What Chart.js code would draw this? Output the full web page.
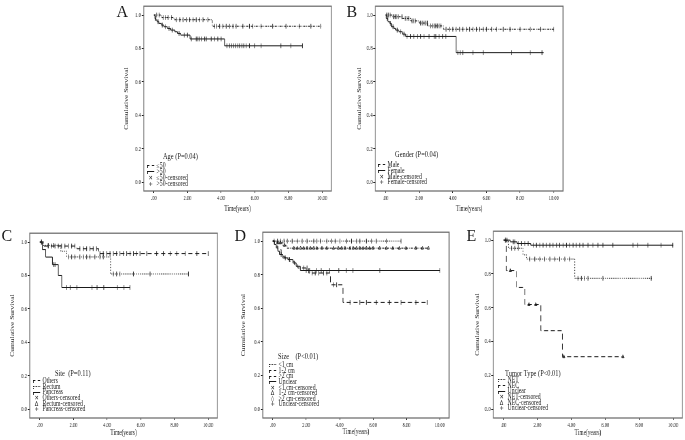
<!DOCTYPE html>
<html>
<head>
<meta charset="utf-8">
<script src="https://cdn.jsdelivr.net/npm/chart.js@4/dist/chart.umd.min.js"></script>
<style>
html, body { margin: 0; padding: 0; background: #fff; }
body { width: 685px; height: 440px; position: relative; overflow: hidden; font-family: "Liberation Serif", serif; color: #1a1a1a; }
.panel { position: absolute; transform-origin: 0 0; }
.panel canvas { position: absolute; left: 0; top: 0; }
.letter { position: absolute; font-size: 16px; line-height: 16px; }
.lg { position: absolute; transform-origin: 0 0; font-size: 7.2px; white-space: pre; }
.lg .ttl { font-size: 8px; line-height: 8px; }
.lg .row { display: flex; align-items: center; }
.sym { display: inline-block; width: 9px; height: 3px; border: 0 none; border-top: 1px solid #1a1a1a; border-left: 1px solid #1a1a1a; margin-right: 3px; box-sizing: border-box; }
.glyph { display: inline-block; width: 9px; margin-right: 3px; text-align: center; font-family: "DejaVu Sans", sans-serif; font-size: 6.5px; }
</style>
</head>
<body>
<script>
var K = 0.68;          // the plots are squeezed sideways
var KL = 0.8;          // legend text is squeezed a bit less
var INK = '#1a1a1a';
var FRAME = '#666';

// axis ticks
var xTickVals = [0, 2, 4, 6, 8, 10];
var xTickLabels = ['.00', '2.00', '4.00', '6.00', '8.00', '10.00'];
var yTickVals = [0, 0.2, 0.4, 0.6, 0.8, 1.0];
var yTickLabels = ['0.0', '0.2', '0.4', '0.6', '0.8', '1.0'];

// A - age
var ageLe50Time = [0, 0.45, 1.2, 3.47, 10.0];
var ageLe50Surv = [1.0, 0.985, 0.972, 0.933, 0.933];
var ageLe50Cens = [0.16, 0.32, 0.55, 0.71, 0.85, 1.04, 1.34, 1.54, 1.74, 1.93, 2.13, 2.33, 2.52, 2.72, 2.92, 3.21, 3.61, 3.71, 3.91, 4.1, 4.3, 4.5, 4.7, 4.89, 5.29, 5.68, 5.88, 6.37, 7.06, 7.85, 8.64, 9.33, 9.92];
var ageGt50Time = [0, 0.06, 0.12, 0.2, 0.3, 0.45, 0.6, 0.8, 1.0, 1.25, 1.4, 1.6, 2.15, 4.2, 8.83];
var ageGt50Surv = [1.0, 0.98, 0.97, 0.96, 0.95, 0.94, 0.93, 0.92, 0.91, 0.90, 0.89, 0.88, 0.857, 0.816, 0.816];
var ageGt50Cens = [0.1, 0.25, 0.5, 0.7, 0.9, 1.1, 1.5, 1.8, 2.0, 2.23, 2.52, 2.62, 2.72, 2.82, 3.02, 3.12, 3.41, 3.61, 3.8, 4.0, 4.34, 4.5, 4.62, 4.73, 4.85, 4.99, 5.09, 5.23, 5.34, 5.48, 5.68, 5.98, 6.37, 7.55, 8.14, 8.83];
var ageLabels = ['≤50', '>50', '≤50-censored', '>50-censored'];

// B - gender
var maleTime = [0, 0.4, 1.0, 1.5, 2.0, 2.5, 3.45, 10.0];
var maleSurv = [1.0, 0.99, 0.98, 0.965, 0.952, 0.935, 0.915, 0.915];
var maleCens = [0.08, 0.18, 0.28, 0.48, 0.58, 0.68, 0.78, 0.98, 1.18, 1.28, 1.38, 1.58, 1.69, 1.79, 2.09, 2.19, 2.29, 2.39, 2.49, 2.69, 2.79, 2.89, 2.99, 3.09, 3.19, 3.29, 3.6, 3.8, 4.0, 4.2, 4.4, 4.6, 4.8, 5.0, 5.2, 5.4, 5.6, 5.8, 6.0, 6.3, 6.6, 7.0, 7.4, 8.0, 8.6, 9.2, 10.0];
var femaleTime = [0, 0.05, 0.15, 0.25, 0.35, 0.5, 0.6, 0.8, 1.0, 1.2, 4.2, 9.4];
var femaleSurv = [1.0, 0.98, 0.96, 0.95, 0.93, 0.92, 0.91, 0.90, 0.886, 0.872, 0.775, 0.775];
var femaleCens = [0.1, 0.3, 0.45, 0.7, 0.9, 1.1, 1.28, 1.48, 1.69, 1.89, 2.09, 2.29, 2.59, 2.89, 2.99, 3.19, 3.39, 3.59, 4.3, 4.44, 4.6, 5.2, 5.8, 7.5, 8.6, 9.3];
var genderLabels = ['Male', 'Female', 'Male-censored', 'Female-censored'];

// C - site
var othersTime = [0, 0.25, 2.2, 3.5, 10.0];
var othersSurv = [1.0, 0.976, 0.96, 0.931, 0.931];
var othersCens = [0.1, 0.5, 0.7, 0.9, 1.1, 1.29, 1.49, 1.69, 1.89, 2.08, 2.38, 2.58, 2.78, 2.98, 3.17, 3.37, 3.57, 3.77, 3.97, 4.17, 4.37, 4.56, 4.76, 4.96, 5.16, 5.36, 5.56, 5.75, 5.95, 6.35, 6.94, 7.34, 7.74, 8.13, 8.63, 9.33, 10.0];
var rectumTime = [0, 0.2, 1.25, 1.6, 4.2, 8.83];
var rectumSurv = [1.0, 0.98, 0.945, 0.911, 0.809, 0.809];
var rectumCens = [0.1, 0.5, 0.8, 1.69, 1.89, 2.08, 2.38, 2.58, 2.78, 2.98, 3.27, 3.57, 3.77, 4.37, 4.56, 4.76, 5.56, 6.55, 8.83];
var pancreasTime = [0, 0.15, 0.35, 0.75, 1.1, 1.3, 5.35];
var pancreasSurv = [1.0, 0.955, 0.91, 0.865, 0.80, 0.728, 0.728];
var pancreasCens = [0.8, 0.9, 1.6, 1.8, 2.2, 3.1, 3.4, 3.8, 4.6, 5.0, 5.35];
var siteLabels = ['Others', 'Rectum', 'Pancreas', 'Others-censored', 'Rectum-censored', 'Pancreas-censored'];

// D - size
var lt1Time = [0, 7.67];
var lt1Surv = [1.0, 1.0];
var lt1Cens = [0.08, 0.28, 0.47, 0.67, 0.87, 1.16, 1.46, 1.76, 2.05, 2.45, 2.64, 2.84, 3.23, 3.53, 3.73, 4.02, 4.42, 4.71, 5.01, 5.21, 5.6, 5.9, 6.2, 6.79, 7.67];
var oneTwoTime = [0, 0.2, 0.6, 0.85, 9.31];
var oneTwoSurv = [1.0, 0.99, 0.975, 0.958, 0.958];
var oneTwoCens = [0.3, 0.45, 0.7, 1.26, 1.46, 1.66, 1.85, 2.05, 2.25, 2.45, 2.64, 2.94, 3.23, 3.63, 3.92, 4.12, 4.32, 4.62, 4.81, 5.01, 5.21, 5.4, 5.6, 5.8, 6.0, 6.39, 6.79, 7.18, 7.57, 7.97, 8.56, 8.95, 9.31];
var gt2Time = [0, 0.1, 0.3, 0.5, 0.7, 1.0, 1.3, 1.5, 2.15, 3.45, 4.2, 9.25];
var gt2Surv = [1.0, 0.97, 0.95, 0.91, 0.90, 0.88, 0.86, 0.84, 0.81, 0.74, 0.635, 0.635];
var gt2Cens = [1.85, 2.05, 2.35, 2.54, 2.74, 3.04, 3.23, 3.63, 3.82, 4.62, 5.21, 5.6, 6.2, 6.98, 7.67, 8.56, 9.25];
var unclearDTime = [0, 0.1, 0.2, 0.3, 0.4, 0.6, 0.9, 1.2, 1.4, 1.65, 10.0];
var unclearDSurv = [1.0, 0.98, 0.96, 0.94, 0.92, 0.90, 0.89, 0.87, 0.85, 0.825, 0.825];
var unclearDCens = [0.5, 0.75, 1.0, 2.0, 2.2, 2.6, 2.9, 3.4, 3.95, 4.4, 4.8, 6.4, 10.0];
var sizeLabels = ['<1 cm', '1-2 cm', '>2 cm', 'Unclear', '<1 cm-censored', '1-2 cm-censored', '>2 cm-censored', 'Unclear-censored'];

// E - tumor type
var netTime = [0, 0.3, 1.15, 1.35, 4.2, 8.8];
var netSurv = [1.0, 0.952, 0.913, 0.888, 0.774, 0.774];
var netCens = [0.1, 0.47, 0.67, 0.86, 1.55, 1.84, 2.14, 2.43, 2.73, 3.02, 3.31, 3.61, 3.9, 4.39, 4.59, 4.78, 4.98, 5.86, 8.71];
var necTime = [0, 0.17, 0.76, 1.25, 2.2, 3.47, 7.04];
var necSurv = [1.0, 0.82, 0.72, 0.619, 0.464, 0.31, 0.31];
var necCens = [0.4, 1.5, 1.9, 3.55, 7.04];
var unclearETime = [0, 0.4, 0.8, 1.6, 10.0];
var unclearESurv = [1.0, 0.99, 0.98, 0.97, 0.97];
var unclearECens = [0.1, 0.2, 0.57, 0.67, 0.86, 1.06, 1.25, 1.45, 1.75, 1.94, 2.14, 2.33, 2.53, 2.73, 2.92, 3.12, 3.31, 3.51, 3.71, 3.9, 4.1, 4.29, 4.49, 4.69, 4.98, 5.27, 5.57, 5.86, 6.45, 7.63, 7.92, 8.51, 9.29, 9.98];
var typeLabels = ['NET', 'NEC', 'Unclear', 'NET-censored', 'NEC-censored', 'Unclear-censored'];

// line dash per group style
var DOTDASH = [3, 1.5, 1, 1.5];
var DASHED = [6, 4];
var DOTTED = [1.2, 1.6];
var SOLID = [];

var panels = [
	{
		letter: 'A', letterPos: [122, 12],
		frame: {l: 144, t: 3, r: 332, b: 191}, yGap: 17, xGap: 18,
		curves: [
			{time: ageLe50Time, surv: ageLe50Surv, cens: ageLe50Cens, dash: DOTDASH, mark: 'line'},
			{time: ageGt50Time, surv: ageGt50Surv, cens: ageGt50Cens, dash: SOLID, mark: 'line'},
		],
		legend: {title: 'Age (P=0.04)', labels: ageLabels, x: 147, ty: 157, tdx: 16, gap: 9, step: 6,
			syms: [DOTDASH, SOLID, '✕', '+']},
	},
	{
		letter: 'B', letterPos: [352, 12],
		frame: {l: 375, t: 3, r: 563, b: 191}, yGap: 15, xGap: 18,
		curves: [
			{time: maleTime, surv: maleSurv, cens: maleCens, dash: DOTDASH, mark: 'line'},
			{time: femaleTime, surv: femaleSurv, cens: femaleCens, dash: SOLID, mark: 'line'},
		],
		legend: {title: 'Gender (P=0.04)', labels: genderLabels, x: 378, ty: 155, tdx: 17, gap: 11, step: 5.8,
			syms: [DOTDASH, SOLID, '✕', '+']},
	},
	{
		letter: 'C', letterPos: [7, 236],
		frame: {l: 30, t: 230, r: 218, b: 418}, yGap: 17, xGap: 15,
		curves: [
			{time: othersTime, surv: othersSurv, cens: othersCens, dash: DASHED, mark: 'line'},
			{time: rectumTime, surv: rectumSurv, cens: rectumCens, dash: DOTTED, mark: 'line'},
			{time: pancreasTime, surv: pancreasSurv, cens: pancreasCens, dash: SOLID, mark: 'line'},
		],
		legend: {title: 'Site  (P=0.11)', labels: siteLabels, x: 33, ty: 374, tdx: 22, gap: 8, step: 5.6,
			syms: [DASHED, DOTTED, SOLID, '✕', 'Δ', '+']},
	},
	{
		letter: 'D', letterPos: [240, 236],
		frame: {l: 263, t: 229, r: 449, b: 418}, yGap: 19, xGap: 14,
		curves: [
			{time: lt1Time, surv: lt1Surv, cens: lt1Cens, dash: DOTTED, mark: 'line'},
			{time: oneTwoTime, surv: oneTwoSurv, cens: oneTwoCens, dash: DOTDASH, mark: 'triangle'},
			{time: gt2Time, surv: gt2Surv, cens: gt2Cens, dash: DASHED, mark: 'line'},
			{time: unclearDTime, surv: unclearDSurv, cens: unclearDCens, dash: SOLID, mark: 'line'},
		],
		legend: {title: 'Size    (P<0.01)', labels: sizeLabels, x: 269, ty: 357, tdx: 9, gap: 9, step: 5.6,
			syms: [DOTTED, DOTDASH, DASHED, SOLID, '✕', 'Δ', '◊', '+']},
	},
	{
		letter: 'E', letterPos: [472, 236],
		frame: {l: 493, t: 228, r: 682, b: 418}, yGap: 15, xGap: 15,
		curves: [
			{time: netTime, surv: netSurv, cens: netCens, dash: DOTTED, mark: 'line'},
			{time: necTime, surv: necSurv, cens: necCens, dash: DASHED, mark: 'triangle'},
			{time: unclearETime, surv: unclearESurv, cens: unclearECens, dash: SOLID, mark: 'line'},
		],
		legend: {title: 'Tumor Type (P<0.01)', labels: typeLabels, x: 498, ty: 374, tdx: 7, gap: 7, step: 5.6,
			syms: [DOTTED, DASHED, SOLID, '✕', 'Δ', '+']},
	},
];

// survival level at time t
function survAt(time, surv, t){
	var s = surv[0];
	for(var i = 0; i < time.length; i++){
		if(time[i] <= t) s = surv[i];
	}
	return s;
}

// box round the plot area
var framePlugin = {
	id: 'frame',
	afterDraw: (chart) => {
		var a = chart.chartArea;
		var ctx = chart.ctx;
		ctx.save();
		ctx.strokeStyle = FRAME;
		ctx.lineWidth = 1.2;
		ctx.strokeRect(a.left, a.top, a.right - a.left, a.bottom - a.top);
		ctx.restore();
	}
};

function makePanel(p){
	var fr = p.frame;
	var wy = Math.round(p.yGap / K + 4.5);
	var hx = Math.round(p.xGap + 4.8);
	var padT = 2, padR = 2;
	var cw = Math.round((fr.r - fr.l) / K);
	var W = wy + cw + padR;
	var H = padT + (fr.b - fr.t) + hx;

	var box = document.createElement('div');
	box.className = 'panel';
	box.style.left = (fr.l - wy * K) + 'px';
	box.style.top = (fr.t - padT) + 'px';
	box.style.width = W + 'px';
	box.style.height = H + 'px';
	box.style.transform = 'scaleX(' + K + ')';
	var cv = document.createElement('canvas');
	cv.width = W;
	cv.height = H;
	box.appendChild(cv);
	document.body.appendChild(box);

	var datasets = [];
	p.curves.forEach(c => {
		datasets.push({
			data: c.time.map((t, i) => ({x: t, y: c.surv[i]})),
			stepped: 'before',
			borderColor: INK,
			borderWidth: 1,
			borderDash: c.dash,
			pointRadius: 0,
			fill: false,
		});
		datasets.push({
			data: c.cens.map(t => ({x: t, y: survAt(c.time, c.surv, t)})),
			showLine: false,
			pointStyle: c.mark,
			pointRotation: c.mark === 'line' ? 90 : 0,
			pointRadius: c.mark === 'line' ? 2.4 : 1.9,
			pointBorderColor: INK,
			pointBackgroundColor: 'rgba(0,0,0,0)',
			pointBorderWidth: 0.9,
		});
	});

	new Chart(cv, {
		type: 'line',
		data: {datasets: datasets},
		plugins: [framePlugin],
		options: {
			responsive: false,
			animation: false,
			events: [],
			layout: {autoPadding: false, padding: {top: padT, right: padR, left: 0, bottom: 0}},
			plugins: {legend: {display: false}, tooltip: {enabled: false}},
			scales: {
				x: {
					type: 'linear', min: -0.6, max: 10.55,
					afterBuildTicks: s => { s.ticks = xTickVals.map(v => ({value: v})); },
					afterFit: s => { s.height = hx; },
					ticks: {
						callback: (v, i) => xTickLabels[i],
						font: {family: 'Liberation Serif', size: 6.6},
						color: INK, padding: 1, maxRotation: 0, autoSkip: false,
					},
					grid: {drawOnChartArea: false, tickLength: 2, color: INK},
					border: {display: false},
					title: {display: true, text: 'Time(years)', color: INK, padding: 0,
						font: {family: 'Liberation Serif', size: 8}},
				},
				y: {
					type: 'linear', min: -0.053, max: 1.053,
					afterBuildTicks: s => { s.ticks = yTickVals.map(v => ({value: v})); },
					afterFit: s => { s.width = wy; },
					ticks: {
						callback: (v, i) => yTickLabels[i],
						font: {family: 'Liberation Serif', size: 7},
						color: INK, padding: 1, autoSkip: false,
					},
					grid: {drawOnChartArea: false, tickLength: 3, color: INK},
					border: {display: false},
					title: {display: true, text: 'Cumulative Survival', color: INK, padding: 0,
						font: {family: 'Liberation Serif', size: 7.5}},
				},
			},
		},
	});

	// panel letter
	var lt = document.createElement('div');
	lt.className = 'letter';
	lt.textContent = p.letter;
	lt.style.left = (p.letterPos[0] - 5.5) + 'px';
	lt.style.top = (p.letterPos[1] - 8) + 'px';
	document.body.appendChild(lt);

	// legend in the lower left corner of the plot
	var lg = p.legend;
	var d = document.createElement('div');
	d.className = 'lg';
	d.style.left = lg.x + 'px';
	d.style.top = (lg.ty - 4) + 'px';
	d.style.transform = 'scaleX(' + KL + ')';
	var html = '<div class="ttl" style="margin-left:' + (lg.tdx / KL).toFixed(1) + 'px">' + lg.title + '</div>';
	html += '<div style="height:' + (lg.gap - 4 - lg.step / 2).toFixed(1) + 'px"></div>';
	lg.labels.forEach((name, i) => {
		var s = lg.syms[i];
		var sym;
		if(Array.isArray(s)){
			var style = s.length === 0 ? 'solid' : (s === DOTTED ? 'dotted' : 'dashed');
			sym = '<span class="sym" style="border-top-style:' + style + ';border-left-style:' + style + '"></span>';
		}else{
			sym = '<span class="glyph">' + s + '</span>';
		}
		var label = name.replace(/</g, '&lt;').replace(/>/g, '&gt;');
		html += '<div class="row" style="height:' + lg.step + 'px;line-height:' + lg.step + 'px">' + sym + label + '</div>';
	});
	d.innerHTML = html;
	document.body.appendChild(d);
}

panels.forEach(p => makePanel(p));
</script>
</body>
</html>
